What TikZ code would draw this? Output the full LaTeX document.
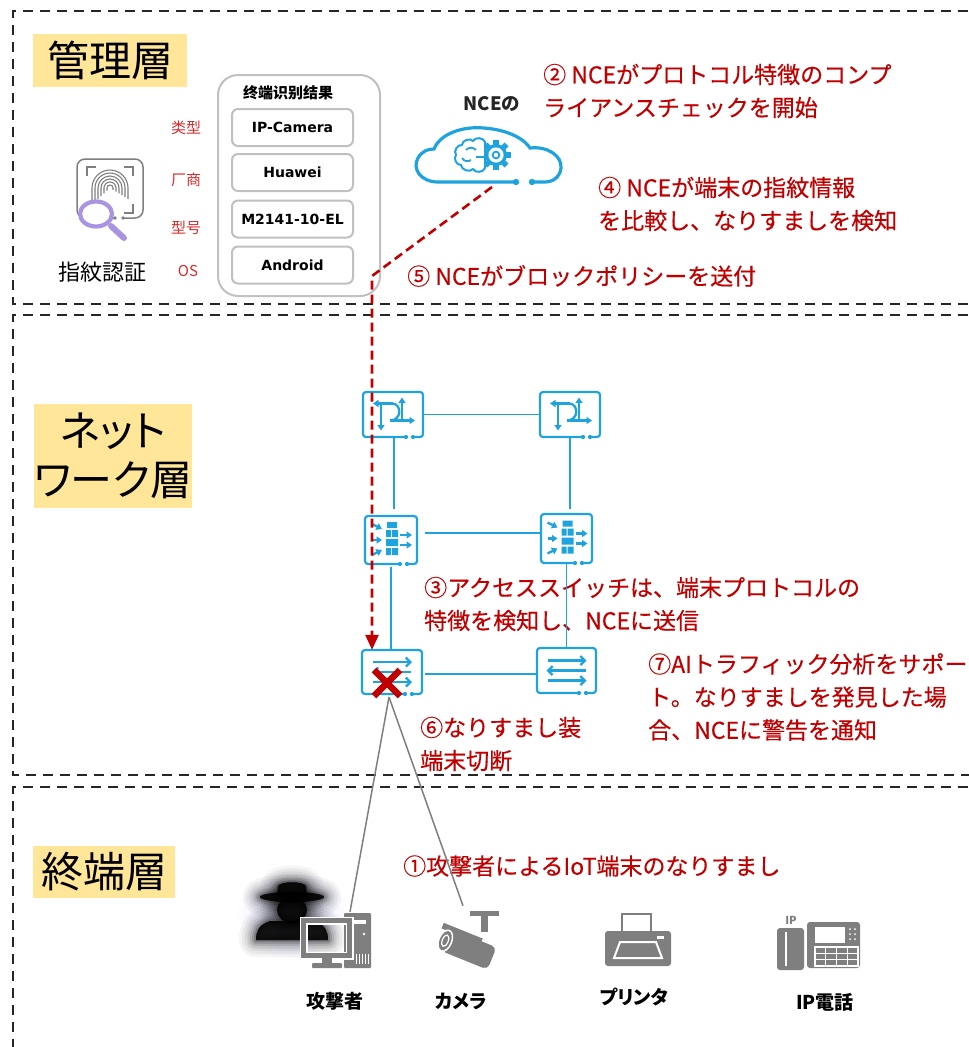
\documentclass[tikz,border=0pt]{standalone}
\usepackage{fontspec}
\setmainfont{Noto Sans CJK JP}
\newfontfamily\jpprop[RawFeature=+palt]{Noto Sans CJK JP}
\newfontfamily\notefont[FakeBold=0.35]{Noto Sans CJK JP}
\newfontfamily\scfont{Noto Sans CJK SC}
\newfontfamily\dvfont{DejaVu Sans}
\usetikzlibrary{arrows.meta}

\definecolor{alarm}{HTML}{C00000}
\definecolor{tagred}{HTML}{D92B2B}
\definecolor{netblue}{HTML}{1FA3DE}
\definecolor{layeryellow}{HTML}{FFE699}
\definecolor{icongray}{HTML}{7F7F7F}
\definecolor{framegray}{HTML}{C0C0C0}
\definecolor{lensviolet}{HTML}{A894E0}
\definecolor{dashgray}{HTML}{262626}
\definecolor{inkdark}{HTML}{262626}

\tikzset{
  layerframe/.style={draw=dashgray, line width=2.4pt, dash pattern=on 10pt off 7pt},
  layertag/.style={fill=layeryellow, inner sep=0pt, align=center, text=black,
    font=\jpprop\fontsize{42}{49}\selectfont},
  note/.style={text=alarm, inner sep=0pt, anchor=west, align=left,
    font=\notefont\fontsize{23}{33}\selectfont},
  kindtag/.style={text=tagred, inner sep=0pt, font=\scfont\fontsize{15}{15}\selectfont},
  field/.style={draw=framegray, line width=2pt, rounded corners=6pt, minimum width=121pt,
    minimum height=37pt, inner sep=0pt, font=\dvfont\bfseries\fontsize{14}{14}\selectfont},
  devnode/.style={inner sep=0pt},
  devlabel/.style={inner sep=0pt, text=black, font=\jpprop\bfseries\fontsize{19}{19}\selectfont},
  link/.style={draw=netblue, line width=1.3pt},
  glyph/.style={draw=netblue, line width=2.3pt},
  solidtip/.style={-{Triangle[length=5.5pt,width=7pt]}},
  opentip/.style={-{Straight Barb[length=4.5pt,width=9pt]}},
  wire/.style={draw=icongray, line width=1.5pt},
  pics/devframe/.style 2 args={code={
    \draw[netblue, line width=2.2pt, rounded corners=3pt]
      (#1-17,#2) -- (-#1,#2) -- (-#1,-#2) -- (#1,-#2) -- (#1,#2) -- (#1-10,#2);
    \fill[netblue] (#1-17,#2) circle (2.1pt) (#1-10,#2) circle (2.1pt);
  }},
  pics/routerglyph/.style={code={
    \draw[glyph, solidtip] (0,-11) -- (-20,-11);
    \draw[glyph, solidtip] (-12,-11) -- (-12,16);
    \draw[glyph, solidtip] (9,6) -- (9,-17);
    \draw[glyph, solidtip] (-3,6) -- (22,6);
    \draw[glyph] (-1,-11) .. controls (9,-11) and (9,6) .. (-3,6);
  }},
  pics/wallglyph/.style={code={
    \draw[glyph, solidtip] (-19,-16) -- (-9,-11);
    \draw[glyph, solidtip] (-19,0) -- (-9,0);
    \draw[glyph, solidtip] (-19,15) -- (-9,10);
    \fill[netblue] (-4,-18) rectangle (6,-12)
                   (-5,-10) rectangle (0,-3) (1,-10) rectangle (7,-3)
                   (-5,-1) rectangle (7,6)
                   (-5,8) rectangle (0,15) (1,8) rectangle (7,15);
    \draw[glyph, solidtip] (9,-5) -- (21,-5);
    \draw[glyph, solidtip] (9,5) -- (21,5);
  }},
  pics/switchglyph/.style={code={
    \draw[glyph, opentip] (-19,-10) -- (20,-10);
    \draw[glyph, opentip] (19,0) -- (-20,0);
    \draw[glyph, opentip] (-19,10) -- (20,10);
  }},
  pics/spyshape/.style={code={
    \path[pic actions] (277,897) -- (278,886) .. controls (281,881) and (303,881) .. (306,886) -- (307,897) -- cycle;
    \path[pic actions] (292,897) ellipse (32 and 5);
    \path[pic actions] (292,910) ellipse (15 and 13);
    \path[pic actions] (270,921) .. controls (258,925) and (256,932) .. (256,940)
      -- (328,940) .. controls (328,932) and (326,925) .. (314,921) -- cycle;
  }}
}

\begin{document}
\begin{tikzpicture}[x=1pt, y=-1pt]
\useasboundingbox (0,0) rectangle (969,1047);
\fill[white] (0,0) rectangle (969,1047);

% ---------- layer frames (open to the right) ----------
\draw[layerframe] (985,11) -- (13,11) -- (13,304) -- (985,304);
\draw[layerframe] (985,315) -- (13,315) -- (13,775) -- (985,775);
\draw[layerframe] (985,787) -- (13,787) -- (13,1060);

% ---------- layer tags ----------
\node[layertag, minimum width=154pt, minimum height=53pt] (tagmgmt) at (110,60) {管理層};
\node[layertag, minimum width=148pt, minimum height=104pt] (tagnet) at (113,456) {ネット\\ワーク層};
\node[layertag, minimum width=142pt, minimum height=52pt] (tagend) at (104,872) {終端層};

% ---------- fingerprint badge ----------
\node[devnode, minimum width=66pt, minimum height=59pt] (fp) at (110,188.5) {};
\draw[icongray, line width=1.5pt, rounded corners=8pt]
  (115,218) -- (77,218) -- (77,159) -- (143,159) -- (143,218) -- (123,218);
\fill[icongray] (115,218) circle (1.9pt) (123,218) circle (1.9pt);
\draw[icongray, line width=1.2pt]
  (87,176) -- (87,167) -- (96,167)  (124,167) -- (133,167) -- (133,176)
  (133,204) -- (133,213) -- (124,213)  (96,213) -- (87,213) -- (87,204);
\begin{scope}
  \clip (89,169) rectangle (131,211);
  \foreach \r in {3,6,...,18}
    \draw[icongray, line width=1.1pt]
      (110-\r,188+0.9*\r) -- (110-\r,188) arc[start angle=180, end angle=360, radius=\r] -- (110+\r,188+0.6*\r);
\end{scope}
\filldraw[fill=white, draw=lensviolet, line width=4.2pt] (96,214) ellipse (16 and 12.5);
\draw[lensviolet, line width=6pt, line cap=round] (111,226) -- (124,238);
\node[inner sep=0pt, font=\fontsize{22}{22}\selectfont] (fplabel) at (102,272) {指紋認証};

% ---------- identification result ----------
\node[kindtag] (kind1) at (186,128) {类型};
\node[kindtag] (kind2) at (186,180) {厂商};
\node[kindtag] (kind3) at (186,228) {型号};
\node[kindtag] (kind4) at (188,271) {OS};
\node[draw=framegray, line width=2pt, rounded corners=20pt, minimum width=162pt,
      minimum height=221pt, inner sep=0pt] (result) at (299,185.5) {};
\node[inner sep=0pt, font=\scfont\bfseries\fontsize{15}{15}\selectfont] (restitle) at (288,93) {终端识别结果};
\node[field] (f1) at (292.5,127.5) {IP-Camera};
\node[field] (f2) at (292.5,172.5) {Huawei};
\node[field] (f3) at (292.5,219) {M2141-10-EL};
\node[field] (f4) at (292.5,265) {Android};

% ---------- NCE cloud ----------
\node[inner sep=0pt, text=inkdark, font=\bfseries\fontsize{18.5}{18.5}\selectfont] (ncelabel) at (492,104) {NCEの};
\node[devnode, minimum width=148pt, minimum height=56pt] (nce) at (487,155) {};
\draw[netblue, line width=3.2pt, line cap=round]
  (516,182) -- (438,182)
  .. controls (420,182) and (412,168) .. (418,158)
  .. controls (422,151) and (428,149) .. (434,149)
  .. controls (440,134) and (462,126) .. (484,128)
  .. controls (510,130) and (525,140) .. (530,148)
  .. controls (548,146) and (562,156) .. (561,168)
  .. controls (560,177) and (553,182) .. (545,182) -- (532,182);
\fill[netblue] (516,182) circle (3.2pt) (532,182) circle (3.2pt);
% brain half
\draw[netblue, line width=2pt]
  (485,142) to[bend right=70] (473,141) to[bend right=70] (462,145)
  to[bend right=70] (456,155) to[bend right=70] (461,165)
  to[bend right=70] (473,169) to[bend right=70] (485,168) -- cycle;
\draw[netblue, line width=1.8pt]
  (466,150) to[bend left=50] (476,150)
  (462,158) to[bend right=50] (471,160)
  (476,157) -- (485,157);
% gear half
\begin{scope}
  \clip (486,135) rectangle (520,175);
  \fill[netblue] (496,155) circle (11);
  \foreach \a in {0,45,...,315}
    \fill[netblue, rotate around={\a:(496,155)}] (505,152.3) rectangle (511,157.7);
  \fill[white] (496,155) circle (7.6);
  \draw[netblue, line width=1.8pt] (496,155) circle (3.4);
\end{scope}

% ---------- red notes ----------
\node[note] (note2) at (543,91) {② NCEがプロトコル特徴のコンプ\\ライアンスチェックを開始};
\node[note] (note4) at (598,204) {④ NCEが端末の指紋情報\\を比較し、なりすましを検知};
\node[note] (note5) at (407,276) {⑤ NCEがブロックポリシーを送付};
\node[note] (note3) at (424,604) {③アクセススイッチは、端末プロトコルの\\特徴を検知し、NCEに送信};
\node[note] (note7) at (648,697) {⑦AIトラフィック分析をサポー\\ト。なりすましを発見した場\\合、NCEに警告を通知};
\node[note] (note6) at (420,744) {⑥なりすまし装\\端末切断};
\node[note] (note1) at (403,866) {①攻撃者によるIoT端末のなりすまし};

% ---------- network devices ----------
\node[devnode, minimum width=60pt, minimum height=45pt] (rtl) at (393,414.5) {};
\node[devnode, minimum width=60pt, minimum height=45pt] (rtr) at (570,414.5) {};
\node[devnode, minimum width=52pt, minimum height=48pt] (fwl) at (391,540) {};
\node[devnode, minimum width=51pt, minimum height=49pt] (fwr) at (566.5,538.5) {};
\node[devnode, minimum width=60pt, minimum height=44pt] (swl) at (392,672) {};
\node[devnode, minimum width=59pt, minimum height=45pt] (swr) at (566.5,670.5) {};

\pic at (rtl) {devframe={30}{22.5}};
\pic at (rtl) {routerglyph};
\pic at (rtr) {devframe={30}{22.5}};
\pic at (rtr) {routerglyph};
\pic at (fwl) {devframe={26}{24}};
\pic at (fwl) {wallglyph};
\pic at (fwr) {devframe={25.5}{24.5}};
\pic at (fwr) {wallglyph};
\pic at (swl) {devframe={30}{22}};
\pic at (swl) {switchglyph};
\pic at (swr) {devframe={29.5}{22.5}};
\pic at (swr) {switchglyph};

\draw[link] (rtl.east) -- (rtr.west);
\draw[link, shorten >=7pt] ([xshift=1pt]rtl.south) -- ([xshift=1pt]rtl.south |- fwl.north);
\draw[link, shorten >=5pt] (rtr.south) -- (rtr.south |- fwr.north);
\draw[link, shorten <=8pt] ([yshift=7pt]fwl.east) -- ([yshift=7pt]fwl.east -| fwr.west);
\draw[link, shorten <=3pt] (fwl.south) -- (fwl.south |- swl.north);
\draw[link] (fwr.south) -- (fwr.south |- swr.north);
\draw[link, shorten <=3pt] ([yshift=-2pt]swl.east) -- ([yshift=-2pt]swl.east -| swr.west);

% ---------- block policy pushed from NCE ----------
\coordinate (nceout) at (492,187);
\coordinate (bend) at (372,276);
\draw[alarm, line width=2.6pt, dash pattern=on 9pt off 5pt,
      -{Triangle[length=15pt,width=13pt]}]
  (nceout) -- (bend) -- (bend |- swl.north);

% ---------- terminals ----------
\node[devnode, minimum width=72pt, minimum height=58pt] (pc) at (336,941) {};
\node[devnode, minimum width=74pt, minimum height=62pt] (cam) at (465,937) {};
\node[devnode, minimum width=66pt, minimum height=54pt] (prn) at (638,940) {};
\node[devnode, minimum width=84pt, minimum height=52pt] (tel) at (818,945) {};

% attacker: soft-edged dark silhouette
\shade[inner color=blue!14!white, outer color=white] (292,914) ellipse (56 and 46);
\foreach \w/\o in {34/0.04, 28/0.05, 22/0.06, 17/0.08, 12/0.1, 8/0.13, 4/0.18}
  \pic[draw=black, fill=black, line width=\w pt, opacity=\o, line join=round] at (0,0) {spyshape};
\pic[fill=black, opacity=0.8] at (0,0) {spyshape};

% workstation
\fill[icongray, rounded corners=1pt] (344,913) rectangle (371,968);
\fill[white] (349,920) rectangle (366,924);
\fill[white] (364,934) circle (1.3pt);
\foreach \x in {356,359,...,368} \draw[white, line width=0.9pt] (\x,954) -- (\x,964);
\draw[white, line width=8pt] (303.5,920.5) rectangle (349.5,955.5);
\draw[icongray, line width=5pt] (303.5,920.5) rectangle (349.5,955.5);
\fill[icongray] (322,958) rectangle (332,964);
\fill[icongray, rounded corners=1pt] (312,963) rectangle (342,968);

% camera
\fill[icongray] (470,911) rectangle (499,916);
\fill[icongray] (481,916) rectangle (488,932);
\begin{scope}[shift={(466,948)}, rotate=-22]
  \fill[icongray, rounded corners=5pt] (-22,-12) rectangle (28,12);
  \fill[icongray] (-30,-15) -- (12,-15) -- (12,-9) -- (-30,-9) -- cycle;
  \filldraw[fill=icongray, draw=white, line width=1.5pt] (-22,1) ellipse (6.5 and 11);
  \draw[white, line width=1.2pt] (-22,1) ellipse (3 and 6);
\end{scope}

% printer
\draw[icongray, line width=2.5pt, fill=white] (622,914) rectangle (651,933);
\fill[icongray, rounded corners=3pt] (605,931) rectangle (671,966);
\draw[white, line width=2pt] (620,942) -- (656,942) -- (662,958) -- (614,958) -- cycle;
\fill[white] (657,936) rectangle (664,939);

% IP phone
\node[inner sep=0pt, text=icongray, font=\bfseries\fontsize{11}{11}\selectfont] (telip) at (791,920) {IP};
\fill[icongray, rounded corners=3pt] (777,928) rectangle (804,970);
\draw[white, line width=1.2pt] (786,932) -- (786,966);
\fill[icongray, rounded corners=3pt] (807,922) rectangle (860,968);
\fill[white] (815,927) rectangle (845,943);
\foreach \yy in {929,934,939} \fill[white] (850,\yy) circle (1pt) (855,\yy) circle (1pt);
\draw[white, line width=1.2pt] (815,947) rectangle (858,966);
\foreach \xx in {825.75,836.5,847.25} \draw[white, line width=1.2pt] (\xx,947) -- (\xx,966);
\foreach \yy in {953.3,959.7} \draw[white, line width=1.2pt] (815,\yy) -- (858,\yy);

% links from the spoofed endpoint back to the access switch
\coordinate (tap) at (389,697);
\draw[wire] (tap) -- ([xshift=14pt]pc.north);
\draw[wire] (tap) -- ([xshift=-2pt]cam.north);

% port shut down
\node[devnode, minimum size=30pt] (cut) at (387,683) {};
\draw[alarm, line width=6.5pt]
  ([shift={(-13,-13)}]cut.center) -- ([shift={(13,13)}]cut.center)
  ([shift={(13,-13)}]cut.center) -- ([shift={(-13,13)}]cut.center);

% terminal labels
\node[devlabel] (lblpc) at (335,1001) {攻撃者};
\node[devlabel] (lblcam) at (461,1001) {カメラ};
\node[devlabel] (lblprn) at (634,997) {プリンタ};
\node[devlabel] (lbltel) at (825,1002) {IP電話};
\end{tikzpicture}
\end{document}
